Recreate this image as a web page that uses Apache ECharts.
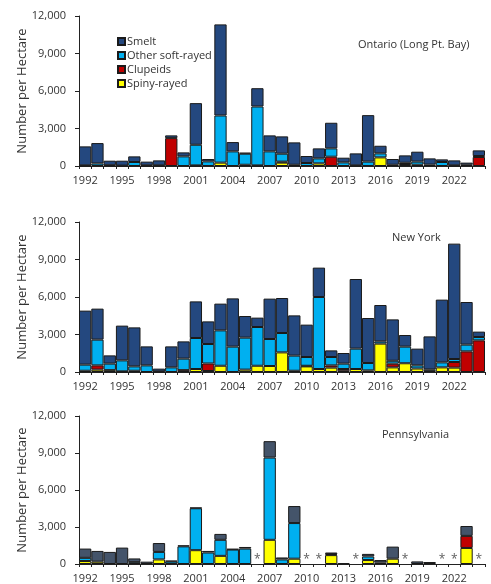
<!DOCTYPE html>
<html>
<head>
<meta charset="utf-8">
<script src="https://cdn.jsdelivr.net/npm/echarts@6/dist/echarts.min.js"></script>
<style>
  html, body { margin: 0; padding: 0; background: #fff; }
  #chart { width: 491px; height: 584px; }
</style>
</head>
<body>
<div id="chart"></div>
<script>
const years = ['1992','1993','1994','1995','1996','1997','1998','1999','2000','2001','2002',
  '2003','2004','2005','2006','2007','2008','2009','2010','2011','2012','2013',
  '2014','2015','2016','2017','2018','2019','2020','2021','2022','2023','2024']

// Ontario (Long Pt. Bay)
const onSpiny = [0,0,0,0,0,0,0,0,0,50,0,270,0,100,50,0,270,0,0,210,0,0,0,0,690,0,160,100,0,0,0,0,0]
const onClup  = [0,0,0,0,0,0,0,2230,0,0,0,0,0,0,0,0,80,0,0,0,745,0,0,0,0,0,0,0,0,0,0,0,720]
const onOther = [50,200,60,30,320,50,50,0,770,1650,370,3770,1170,885,4710,1170,635,100,240,400,665,290,50,350,320,100,100,250,110,320,50,100,80]
const onSmelt = [1520,1635,365,395,450,300,400,220,320,3330,190,7290,745,80,1465,1280,1385,1790,560,800,2050,375,960,3720,610,460,590,795,500,210,400,170,450]

// New York
const nySpiny = [100,190,150,50,100,0,0,0,0,240,80,500,0,190,500,480,1570,100,450,240,350,100,240,130,2270,370,700,280,100,370,350,0,0]
const nyClup  = [0,340,0,0,0,0,0,0,150,0,600,0,0,0,0,0,0,0,50,0,180,140,0,0,0,300,0,0,0,0,450,1650,2530]
const nyOther = [490,2060,520,880,350,530,50,370,920,2480,1560,2830,2030,2560,3100,2160,1550,1210,700,5760,670,430,1630,590,180,230,1330,250,100,400,240,540,270]
const nySmelt = [4320,2480,660,2780,3120,1520,220,1680,1380,2930,1810,2140,3860,1730,750,3230,2800,3220,2590,2350,530,850,5570,3600,2910,3310,930,1340,2650,5020,9230,3410,430]

// Pennsylvania (null = not sampled, shown as *)
const paSpiny = [240,190,0,0,0,0,370,0,0,1120,0,660,0,0,null,1960,0,430,null,null,720,0,null,320,0,430,null,0,0,null,null,1300,null]
const paClup  = [0,0,0,0,0,0,0,0,0,0,0,0,0,0,null,0,0,0,null,null,0,0,null,0,0,0,null,0,0,null,null,980,null]
const paOther = [260,0,0,0,150,0,610,200,1430,3400,930,1300,1170,1250,null,6670,370,2890,null,null,80,0,null,290,120,0,null,0,0,null,null,0,null]
const paSmelt = [750,870,980,1330,300,190,720,70,80,50,130,480,50,130,null,1330,160,1380,null,null,130,60,null,210,200,980,null,210,160,null,null,800,null]

const panelNames = ['Ontario (Long Pt. Bay)', 'New York', 'Pennsylvania']
const yTicks = [0, 3000, 6000, 9000, 12000]

const colors = {
  smelt: '#24487f',
  smeltPa: '#44546a',
  other: '#00b0f0',
  clup: '#c00000',
  spiny: '#ffff00',
}
const font = '"Open Sans", sans-serif'

const grids = [
  { left: 79, right: 6, top: 16, height: 150 },
  { left: 79, right: 6, top: 222, height: 150 },
  { left: 79, right: 6, top: 416, height: 150 },
]

const chart = echarts.init(document.getElementById('chart'))

const clean = (arr) => arr.map((v) => (v === 0 ? null : v))

const panels = [
  { spiny: onSpiny, clup: onClup, other: onOther, smelt: onSmelt },
  { spiny: nySpiny, clup: nyClup, other: nyOther, smelt: nySmelt },
  { spiny: paSpiny, clup: paClup, other: paOther, smelt: paSmelt },
]

const series = []
panels.forEach((p, i) => {
  const layers = [
    ['Spiny-rayed', p.spiny, colors.spiny],
    ['Clupeids', p.clup, colors.clup],
    ['Other soft-rayed', p.other, colors.other],
    ['Smelt', p.smelt, i === 2 ? colors.smeltPa : colors.smelt],
  ]
  layers.forEach(([name, arr, color]) => {
    series.push({
      name,
      type: 'bar',
      stack: 'p' + i,
      xAxisIndex: i,
      yAxisIndex: i,
      barCategoryGap: '0%',
      itemStyle: { color, borderColor: '#1a1a1a', borderWidth: 1 },
      emphasis: { disabled: true },
      data: clean(arr),
    })
  })
})

// asterisks for years not sampled in Pennsylvania
series.push({
  name: 'not sampled',
  type: 'scatter',
  xAxisIndex: 2,
  yAxisIndex: 2,
  symbol: 'circle',
  symbolSize: 2,
  itemStyle: { color: 'rgba(0,0,0,0)' },
  label: {
    show: true,
    formatter: '*',
    position: 'top',
    distance: -3,
    fontSize: 12,
    fontFamily: font,
    color: '#333',
  },
  emphasis: { disabled: true },
  z: 5,
  data: years.filter((y, idx) => paSmelt[idx] === null).map((y) => [y, 0]),
})

const option = {
  animation: false,
  backgroundColor: '#fff',
  title: [
    { text: panelNames[0], left: 353, top: 34 },
    { text: panelNames[1], left: 387, top: 227 },
    { text: panelNames[2], left: 377, top: 424 },
  ].map((t) => ({ ...t, textStyle: { fontSize: 11, fontWeight: 'normal', color: '#333', fontFamily: font } })),
  legend: {
    data: ['Smelt', 'Other soft-rayed', 'Clupeids', 'Spiny-rayed'],
    orient: 'vertical',
    left: 112,
    top: 31,
    itemWidth: 7,
    itemHeight: 7,
    itemGap: 3,
    icon: 'rect',
    textStyle: { fontSize: 11, color: '#333', fontFamily: font, padding: [0, 0, 0, -3] },
  },
  grid: grids,
  xAxis: grids.map((g, i) => ({
    type: 'category',
    gridIndex: i,
    data: years,
    axisLine: { lineStyle: { color: '#222', width: 1 } },
    axisTick: { show: true, interval: 0, length: 3, lineStyle: { color: '#222' } },
    axisLabel: { interval: 2, fontSize: 11, color: '#333', fontFamily: font, margin: 9 },
  })),
  yAxis: grids.map((g, i) => ({
    type: 'value',
    gridIndex: i,
    min: yTicks[0],
    max: yTicks[yTicks.length - 1],
    interval: 3000,
    name: 'Number per Hectare',
    nameLocation: 'middle',
    nameGap: 50,
    nameMoveOverlap: false,
    nameTextStyle: { fontSize: 13, color: '#333', fontFamily: font },
    axisLine: { show: true, lineStyle: { color: '#222', width: 1 } },
    axisTick: { show: true, length: 4, lineStyle: { color: '#222' } },
    axisLabel: {
      fontSize: 11,
      color: '#333',
      fontFamily: font,
      margin: 13,
      formatter: (v) => v.toLocaleString('en-US'),
    },
    splitLine: { show: false },
  })),
  series,
}

chart.setOption(option)
</script>
</body>
</html>
